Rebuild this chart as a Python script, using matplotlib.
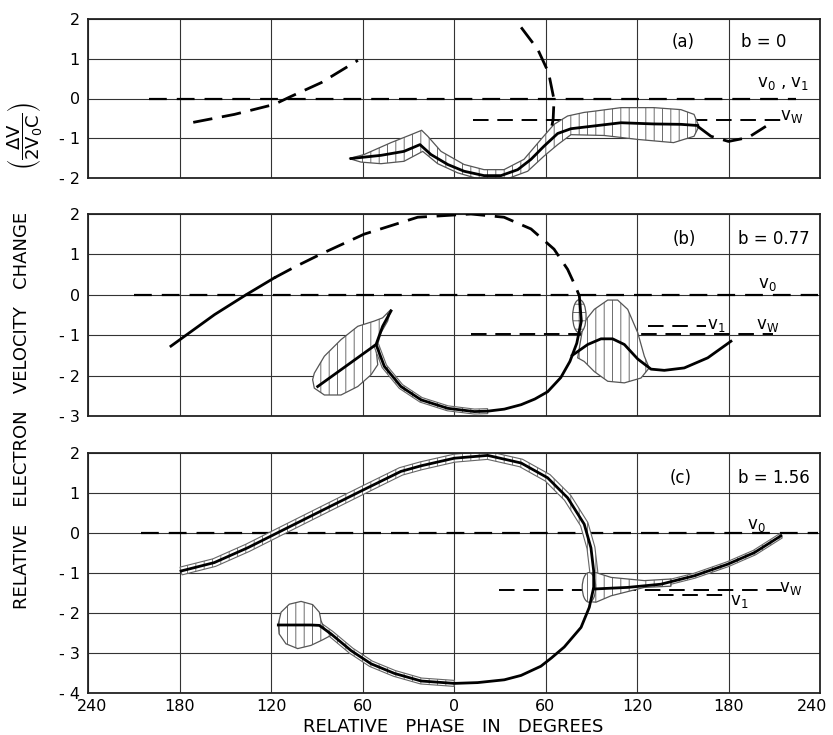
import numpy as np
import matplotlib
matplotlib.use('Agg')
import matplotlib.pyplot as plt
import matplotlib.transforms as mtransforms
from matplotlib.patches import Polygon, Ellipse

plt.rcParams['font.family'] = ['DejaVu Sans']
plt.rcParams['hatch.linewidth'] = 0.6
plt.rcParams['hatch.color'] = '#444444'

# ---------------- data ----------------
x_ticks = [-240, -180, -120, -60, 0, 60, 120, 180, 240]
x_tick_labels = ['240', '180', '120', '60', '0', '60', '120', '180', '240']

# Panel (a)  b = 0
a_yticks = [2, 1, 0, -1, -2]
a_dash_left_x = [-171, -144, -118, -107, -87, -63]
a_dash_left_y = [-0.60, -0.40, -0.15, 0.05, 0.40, 0.96]
a_dash_top_x = [44, 55, 62, 65.6, 65, 63.5]
a_dash_top_y = [1.79, 1.23, 0.65, -0.03, -0.53, -0.82]
a_main_x = [-67.5, -47.9, -32.8, -22.3, -15.1, -4.1, 6.6, 19.7, 30.8, 41.8, 50.5, 59, 68, 76.7,
            89.8, 109.5, 131, 148.8, 159.8]
a_main_y = [-1.51, -1.43, -1.33, -1.16, -1.41, -1.66, -1.83, -1.94, -1.94, -1.79, -1.53, -1.20,
            -0.88, -0.76, -0.70, -0.61, -0.64, -0.65, -0.68]
a_tail_x = [159.8, 168.5, 180, 193, 204.5]
a_tail_y = [-0.70, -0.95, -1.08, -0.98, -0.70]
a_band_x = [-68.8, -59, -41.3, -28.2, -21.2, -17.2, -8.5, 6.6, 19.7, 32.8, 45.9, 57, 65.6, 74.5,
            85.3, 91.8, 109.5, 131, 148.8, 157.4, 160.6,
            157.4, 144, 120.6, 98.4, 76.7, 68, 59, 48.3, 32.8, 17.7, 2.4, -10.7, -20.5, -32.8,
            -47.9, -61]
a_band_y = [-1.51, -1.41, -1.11, -0.91, -0.80, -0.95, -1.33, -1.66, -1.79, -1.79, -1.53, -1.03,
            -0.65, -0.44, -0.35, -0.32, -0.23, -0.23, -0.28, -0.40, -0.70,
            -0.95, -1.11, -1.03, -0.93, -0.91, -1.16, -1.45, -1.83, -2.05, -2.04, -1.87, -1.64,
            -1.33, -1.58, -1.64, -1.60]
a_v0 = 0.0
a_v0_range = [-200, 224]
a_vw = -0.53
a_vw_range = [12.5, 216]

# Panel (b)  b = 0.77
b_yticks = [2, 1, 0, -1, -2, -3]
b_left_x = [-185.6, -157, -136.4, -117.8]
b_left_y = [-1.27, -0.49, 0.0, 0.42]
b_arc_x = [-117.8, -104.9, -87.2, -59, -23.8, 11.1, 32.8, 50.5, 65.6, 74.5, 80, 82.2]
b_arc_y = [0.42, 0.68, 1.01, 1.5, 1.92, 2.0, 1.92, 1.63, 1.13, 0.63, 0.18, -0.03]
b_loop_x = [-41.3, -46.8, -51.1, -45.7, -34.8, -21.6, -4.1, 13.3, 22.1, 33, 44, 53, 61.4, 70, 76,
            80.5, 83.5, 82.2]
b_loop_y = [-0.40, -0.78, -1.23, -1.77, -2.27, -2.60, -2.81, -2.89, -2.88, -2.83, -2.72, -2.58,
            -2.40, -2.05, -1.65, -1.20, -0.65, -0.03]
b_stem_x = [-89.4, -51.1]
b_stem_y = [-2.27, -1.23]
b_s_x = [77.5, 87.7, 96.4, 104, 111.7, 120.5, 129.2, 137.9, 151, 166.4, 181.6]
b_s_y = [-1.50, -1.23, -1.09, -1.09, -1.23, -1.59, -1.84, -1.87, -1.81, -1.56, -1.15]
b_leaf_x = [-92.7, -91.6, -85, -74.1, -63.1, -52.3, -46.8, -41.3, -43.5, -47.9, -51.1, -50,
            -54.4, -63.1, -74.1, -85, -91.6]
b_leaf_y = [-2.10, -1.94, -1.52, -1.11, -0.78, -0.65, -0.57, -0.36, -0.65, -0.94, -1.36, -1.73,
            -1.98, -2.27, -2.48, -2.48, -2.31]
b_bell_x = [81.1, 85, 92, 100.8, 107.3, 113.9, 120.5, 124.8, 128, 122.6, 111.7, 100.8, 92, 85.4]
b_bell_y = [-1.56, -0.69, -0.36, -0.13, -0.13, -0.36, -0.94, -1.52, -1.81, -2.06, -2.18, -2.14,
            -1.90, -1.65]
b_oval = (82.2, -0.53)
b_v0 = 0.0
b_v0_range = [-210, 239]
b_vw = -0.98
b_vw_range = [11, 209]
b_v1 = -0.78
b_v1_range = [127, 165]

# Panel (c)  b = 1.56
c_yticks = [2, 1, 0, -1, -2, -3, -4]
c_loop_x = [-179, -157.2, -135.3, -113.4, -87.2, -58.8, -34.8, -21.6, 0.2, 22.1, 44, 61.4, 74.5,
            85.4, 89.8, 91.6, 91.6, 88.7, 83.3, 72.3, 64, 57, 44, 33, 15.5, 0.2, -21.6, -39.1,
            -54.4, -67.5, -80.7, -88.3, -93.8, -115.2]
c_loop_y = [-0.95, -0.74, -0.37, 0.05, 0.55, 1.09, 1.54, 1.68, 1.87, 1.94, 1.75, 1.38, 0.88,
            0.22, -0.37, -0.95, -1.36, -1.86, -2.36, -2.85, -3.12, -3.33, -3.56, -3.67, -3.74,
            -3.76, -3.70, -3.51, -3.27, -2.94, -2.52, -2.31, -2.30, -2.30]
c_branch_x = [91.6, 113.9, 135.7, 157.6, 179.5, 197, 214.4]
c_branch_y = [-1.40, -1.36, -1.28, -1.07, -0.78, -0.49, -0.07]
c_lobe_x = [-115.2, -113.4, -108, -100.3, -92.7, -88.3, -87.2, -85, -80.7, -86.1, -93.8, -102.5,
            -110.2, -114.7]
c_lobe_y = [-2.27, -1.98, -1.78, -1.71, -1.79, -1.98, -2.19, -2.40, -2.56, -2.67, -2.81, -2.89,
            -2.77, -2.52]
c_funnel_x = [90, 93.1, 103, 124.8, 142.3, 142.3, 124.8, 103, 93.1, 90]
c_funnel_y = [-1.0, -0.99, -1.11, -1.19, -1.15, -1.33, -1.36, -1.57, -1.73, -1.72]
c_oval = (88.5, -1.36)
c_v0 = 0.0
c_v0_range = [-205, 239]
c_vw = -1.43
c_vw_range = [29.7, 215.5]
c_v1 = -1.54
c_v1_range = [133.6, 179.5]

# ---------------- figure ----------------
W, H = 833, 735
fig = plt.figure(figsize=(W / 100, H / 100), dpi=100)

def make_ax(top_px, bot_px, yticks):
    left, right = 88 / W, 820 / W
    ax = fig.add_axes([left, 1 - bot_px / H, right - left, (bot_px - top_px) / H])
    ax.set_xlim(-240, 240)
    ax.set_ylim(min(yticks), max(yticks))
    ax.set_xticks(x_ticks)
    ax.set_yticks(yticks)
    ax.set_yticklabels([str(t) if t >= 0 else '- %d' % (-t) for t in yticks], fontsize=11.5)
    ax.tick_params(length=0, pad=6)
    ax.tick_params(axis='x', pad=4)
    ax.grid(True, color='#333333', lw=0.8, zorder=0)
    for s in ax.spines.values():
        s.set_linewidth(1.3)
        s.set_color('#222222')
    ax.set_axisbelow(True)
    return ax

axa = make_ax(19, 178, a_yticks)
axb = make_ax(214, 416, b_yticks)
axc = make_ax(453, 693, c_yticks)
for ax in (axa, axb):
    ax.set_xticklabels([])
axc.set_xticklabels(x_tick_labels, fontsize=11.5)
lbls = axc.get_xticklabels()
lbls[-1].set_transform(lbls[-1].get_transform() +
                       mtransforms.ScaledTranslation(-8 / 100, 0, fig.dpi_scale_trans))
lbls[0].set_transform(lbls[0].get_transform() +
                      mtransforms.ScaledTranslation(4 / 100, 0, fig.dpi_scale_trans))

DASH = (0, (8, 4.5))
CDASH = (0, (7, 3.5))
SOLID_LW = 2.0

def hline(ax, y, rng, lw=1.6):
    ax.plot(rng, [y, y], color='black', lw=lw, linestyle=DASH, zorder=1.5)

def band(ax, xs, ys, hatch='||'):
    ax.add_patch(Polygon(np.column_stack([xs, ys]), closed=True, fc='white', ec='#555555',
                         lw=0.9, hatch=hatch, zorder=2))

def ribbon(ax, xs, ys, hw):
    pts = ax.transData.transform(np.column_stack([xs, ys]))
    d = np.gradient(pts, axis=0)
    n = np.column_stack([-d[:, 1], d[:, 0]])
    n /= np.linalg.norm(n, axis=1)[:, None]
    poly = np.vstack([pts + n * hw, (pts - n * hw)[::-1]])
    data = ax.transData.inverted().transform(poly)
    ax.add_patch(Polygon(data, closed=True, fc='white', ec='#666666', lw=0.8, hatch='||',
                         zorder=2))

def oval(ax, c, w, h, hatch):
    ax.add_patch(Ellipse(c, w, h, fc='white', ec='#555555', lw=0.9, hatch=hatch, zorder=2.1))

# ---- panel (a)
hline(axa, a_v0, a_v0_range)
hline(axa, a_vw, a_vw_range, lw=1.4)
band(axa, a_band_x, a_band_y)
axa.plot(a_main_x, a_main_y, color='black', lw=SOLID_LW, zorder=3)
axa.plot(a_dash_left_x, a_dash_left_y, color='black', lw=2.0, linestyle=CDASH, zorder=3)
axa.plot(a_dash_top_x, a_dash_top_y, color='black', lw=2.0, linestyle=CDASH, zorder=3)
axa.plot(a_tail_x, a_tail_y, color='black', lw=2.0, linestyle=CDASH, zorder=3)
tk = dict(fontsize=12, ha='center', va='center', zorder=4)
axa.text(150, 1.43, '(a)', **tk)
axa.text(203, 1.43, 'b = 0', **tk)
axa.text(215.7, 0.38, r'v$_0$ , v$_1$', **tk)
axa.text(221.6, -0.43, r'v$_\mathrm{W}$', **tk)

# ---- panel (b)
hline(axb, b_v0, b_v0_range)
hline(axb, b_vw, b_vw_range, lw=1.4)
hline(axb, b_v1, b_v1_range, lw=1.4)
band(axb, b_leaf_x, b_leaf_y)
band(axb, b_bell_x, b_bell_y)
ribbon(axb, b_loop_x[2:9], b_loop_y[2:9], 2.5)
oval(axb, b_oval, 8.8, 0.82, '++')
axb.plot(b_left_x, b_left_y, color='black', lw=SOLID_LW, zorder=3)
axb.plot(b_arc_x, b_arc_y, color='black', lw=2.0, linestyle=CDASH, zorder=3)
axb.plot(b_loop_x, b_loop_y, color='black', lw=SOLID_LW, zorder=3)
axb.plot(b_stem_x, b_stem_y, color='black', lw=SOLID_LW, zorder=3)
axb.plot(b_s_x, b_s_y, color='black', lw=SOLID_LW, zorder=3)
axb.text(150.8, 1.38, '(b)', **tk)
axb.text(209.8, 1.38, 'b = 0.77', **tk)
axb.text(205.7, 0.26, r'v$_0$', **tk)
axb.text(171.8, -0.74, r'v$_1$', **tk)
axb.text(205.7, -0.74, r'v$_\mathrm{W}$', **tk)

# ---- panel (c)
hline(axc, c_v0, c_v0_range)
hline(axc, c_vw, c_vw_range, lw=1.4)
hline(axc, c_v1, c_v1_range, lw=1.4)
ribbon(axc, c_loop_x[:17], c_loop_y[:17], 4)
ribbon(axc, c_loop_x[25:33], c_loop_y[25:33], 3)
ribbon(axc, c_branch_x[2:], c_branch_y[2:], 2.5)
band(axc, c_lobe_x, c_lobe_y)
band(axc, c_funnel_x, c_funnel_y)
oval(axc, c_oval, 8.8, 0.74, '||')
axc.plot(c_loop_x, c_loop_y, color='black', lw=SOLID_LW, zorder=3)
axc.plot(c_branch_x, c_branch_y, color='black', lw=SOLID_LW, zorder=3)
axc.text(148.8, 1.37, '(c)', **tk)
axc.text(209.8, 1.37, 'b = 1.56', **tk)
axc.text(198, 0.2, r'v$_0$', **tk)
axc.text(221, -1.37, r'v$_\mathrm{W}$', **tk)
axc.text(186.9, -1.69, r'v$_1$', **tk)

# ---- axis labels
fig.text(453 / W, 1 - 727 / H, 'RELATIVE   PHASE   IN   DEGREES', ha='center', va='center',
         fontsize=13)
fig.text(22 / W, 1 - 410 / H, 'RELATIVE   ELECTRON   VELOCITY   CHANGE', ha='center',
         va='center', rotation=90, fontsize=13)
fig.text(25 / W, 1 - 136 / H,
         r'$\left(\dfrac{\Delta\mathrm{V}}{2\mathrm{V}_0\mathrm{C}}\right)$', ha='center',
         va='center', rotation=90, fontsize=13)

fig.savefig('out.png', dpi=100)
